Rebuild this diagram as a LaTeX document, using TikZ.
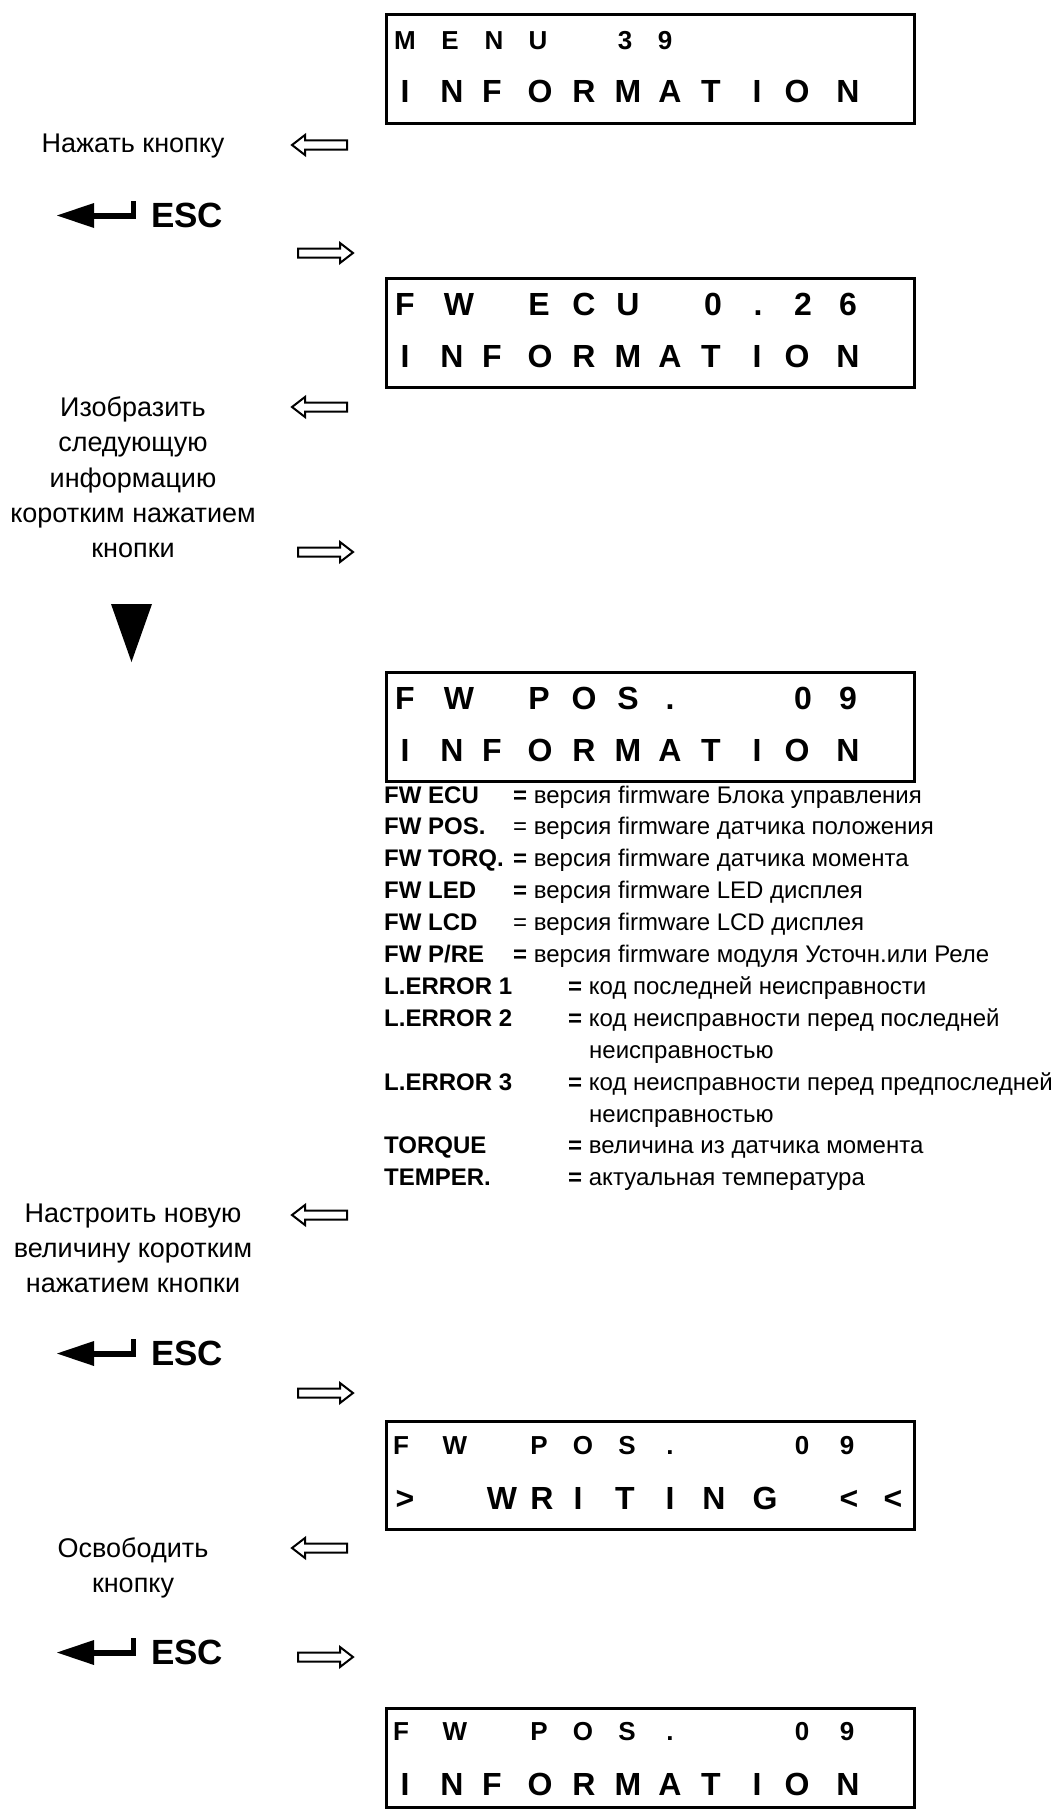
\documentclass[tikz,border=0pt]{standalone}
\usepackage{fontspec}
\setmainfont{Liberation Sans}
\begin{document}
\begin{tikzpicture}[x=1pt,y=-1pt,
  lcdbox/.style={draw,line width=3pt,anchor=north west,inner sep=0pt,minimum width=528pt},
  chbig/.style={anchor=base,inner sep=0pt,font=\bfseries\fontsize{32}{32}\selectfont},
  chsmall/.style={anchor=base,inner sep=0pt,font=\bfseries\fontsize{26}{26}\selectfont},
  lbl/.style={anchor=base,inner sep=0pt,align=center,font=\fontsize{27}{27}\selectfont},
  key/.style={anchor=base west,inner sep=0pt,font=\bfseries\fontsize{24}{24}\selectfont},
  val/.style={anchor=base west,inner sep=0pt,font=\fontsize{24}{24}\selectfont},
  hollow/.style={draw,line width=2pt,line join=miter},
  larrow/.pic={\draw[hollow] (-28,0) -- (-15,-10) -- (-15,-4.5) -- (27,-4.5) -- (27,4.5) -- (-15,4.5) -- (-15,10) -- cycle;},
  rarrow/.pic={\draw[hollow] (28,0) -- (15,-10) -- (15,-4.5) -- (-27,-4.5) -- (-27,4.5) -- (15,4.5) -- (15,10) -- cycle;},
  escsym/.pic={\fill (0,0) -- (37,-12.5) -- (37,12.5) -- cycle;
    \fill (36,-3) rectangle (78.5,3);
    \fill (73.5,-15) rectangle (78.5,3);
    \node[anchor=base west,inner sep=0pt,font=\bfseries\fontsize{35}{35}\selectfont] (-esc) at (94,11.5) {ESC};}
]
\useasboundingbox (0,0) rectangle (1058,1809);

% ---------- LCD boxes ----------
\node[lcdbox,minimum height=109pt] (box1) at (384.5,13.5) {};
\node[lcdbox,minimum height=109pt] (box2) at (384.5,276.5) {};
\node[lcdbox,minimum height=109pt] (box3) at (384.5,670.5) {};
\node[lcdbox,minimum height=108pt] (box4) at (384.5,1419.5) {};
\node[lcdbox,minimum height=99pt] (box5) at (384.5,1706.5) {};

% box 1
\foreach \x/\c [count=\i] in {405/M,450/E,494/N,538/U,625/3,665/9}
  \node[chsmall] (ba\i) at (\x,50) {\c};
\foreach \x/\c [count=\i] in {405/I,452/N,492/F,540/O,584/R,628/M,670/A,711/T,757/I,797/O,848/N}
  \node[chbig] (bb\i) at (\x,103) {\c};
% box 2
\foreach \x/\c [count=\i] in {405/F,459/W,539/E,584/C,628/U,713/0,758/.,803/2,848/6}
  \node[chbig] (bc\i) at (\x,315) {\c};
\foreach \x/\c [count=\i] in {405/I,452/N,492/F,540/O,584/R,628/M,670/A,711/T,757/I,797/O,848/N}
  \node[chbig] (bd\i) at (\x,367) {\c};
% box 3
\foreach \x/\c [count=\i] in {405/F,459/W,539/P,584/O,628/S,670/.,803/0,848/9}
  \node[chbig] (be\i) at (\x,709) {\c};
\foreach \x/\c [count=\i] in {405/I,452/N,492/F,540/O,584/R,628/M,670/A,711/T,757/I,797/O,848/N}
  \node[chbig] (bf\i) at (\x,761) {\c};
% box 4
\foreach \x/\c [count=\i] in {401/F,455/W,539/P,583/O,627/S,670/.,802/0,847/9}
  \node[chsmall] (bg\i) at (\x,1454) {\c};
\foreach \x/\c [count=\i] in {405/>,502/W,542/R,578/I,625/T,670/I,714/N,765/G,849/<,893/<}
  \node[chbig] (bh\i) at (\x,1509) {\c};
% box 5
\foreach \x/\c [count=\i] in {401/F,455/W,539/P,583/O,627/S,670/.,802/0,847/9}
  \node[chsmall] (bi\i) at (\x,1740) {\c};
\foreach \x/\c [count=\i] in {405/I,452/N,492/F,540/O,584/R,628/M,670/A,711/T,757/I,797/O,848/N}
  \node[chbig] (bj\i) at (\x,1795) {\c};

% ---------- left labels ----------
\node[lbl] (l1) at (133,152) {Нажать кнопку};
\node[lbl] (l2a) at (133,416) {Изобразить};
\node[lbl] (l2b) at (133,451.5) {следующую};
\node[lbl] (l2c) at (133,487) {информацию};
\node[lbl] (l2d) at (133,522) {коротким нажатием};
\node[lbl] (l2e) at (133,557) {кнопки};
\node[lbl] (l3a) at (133,1222) {Настроить новую};
\node[lbl] (l3b) at (133,1257) {величину коротким};
\node[lbl] (l3c) at (133,1292) {нажатием кнопки};
\node[lbl] (l4a) at (133,1557) {Освободить};
\node[lbl] (l4b) at (133,1592) {кнопку};

% ---------- arrows ----------
\pic (la1) at (320,145) {larrow};
\pic (la2) at (320,407) {larrow};
\pic (la3) at (320,1215) {larrow};
\pic (la4) at (320,1548) {larrow};
\pic (ra1) at (325,253) {rarrow};
\pic (ra2) at (325,552) {rarrow};
\pic (ra3) at (325,1393) {rarrow};
\pic (ra4) at (325,1657) {rarrow};

% ---------- ESC symbols ----------
\pic (e1) at (57,215.5) {escsym};
\pic (e2) at (57,1353.5) {escsym};
\pic (e3) at (57,1652.5) {escsym};

% ---------- down triangle ----------
\fill (111,604) -- (152,604) -- (131.5,662) -- cycle;

% ---------- legend ----------
\node[key] (k1) at (384,803) {FW ECU};
\node[val] (v1) at (513,803) {\textbf{=} версия firmware Блока управления};
\node[key] (k2) at (384,834.9) {FW POS.};
\node[val] (v2) at (513,834.9) {= версия firmware датчика положения};
\node[key] (k3) at (384,866.8) {FW TORQ.};
\node[val] (v3) at (513,866.8) {\textbf{=} версия firmware датчика момента};
\node[key] (k4) at (384,898.7) {FW LED};
\node[val] (v4) at (513,898.7) {\textbf{=} версия firmware LED дисплея};
\node[key] (k5) at (384,930.6) {FW LCD};
\node[val] (v5) at (513,930.6) {= версия firmware LCD дисплея};
\node[key] (k6) at (384,962.5) {FW P/RE};
\node[val] (v6) at (513,962.5) {\textbf{=} версия firmware модуля Усточн.или Реле};
\node[key] (k7) at (384,994.4) {L.ERROR 1};
\node[val] (v7) at (568,994.4) {\textbf{=} код последней неисправности};
\node[key] (k8) at (384,1026.3) {L.ERROR 2};
\node[val] (v8) at (568,1026.3) {\textbf{=} код неисправности перед последней};
\node[val] (v8b) at (589,1058.2) {неисправностью};
\node[key] (k9) at (384,1090.1) {L.ERROR 3};
\node[val] (v9) at (568,1090.1) {\textbf{=} код неисправности перед предпоследней};
\node[val] (v9b) at (589,1122) {неисправностью};
\node[key] (k10) at (384,1153.9) {TORQUE};
\node[val] (v10) at (568,1153.9) {\textbf{=} величина из датчика момента};
\node[key] (k11) at (384,1185.8) {TEMPER.};
\node[val] (v11) at (568,1185.8) {\textbf{=} актуальная температура};
\end{tikzpicture}
\end{document}
